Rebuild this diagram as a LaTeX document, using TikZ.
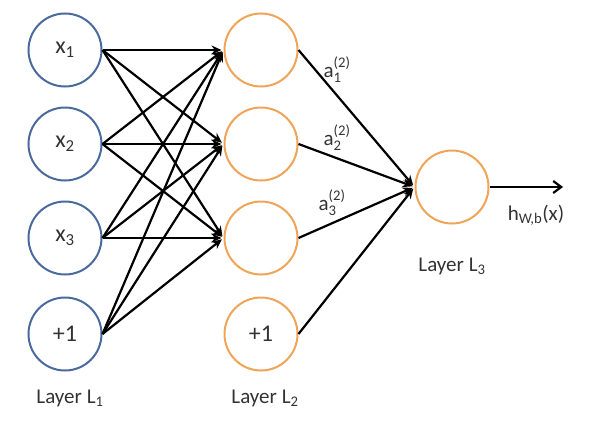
\documentclass[tikz,border=0pt]{standalone}
\usepackage{amsmath}
\usepackage{fontspec}
\setmainfont{Carlito}
\usetikzlibrary{arrows.meta}
\definecolor{inblue}{HTML}{4A6A9C}
\definecolor{hidorange}{HTML}{F0A458}
\definecolor{txt}{HTML}{333333}
\newcommand{\actlbl}[1]{$\text{a}^{\text{(2)}}_{\text{#1}}$}
\begin{document}
\begin{tikzpicture}[x=1pt,y=-1pt,
  neuron/.style={circle,draw,line width=2pt,minimum size=73pt,inner sep=0pt,font=\fontsize{24}{28}\selectfont,text=txt},
  inneuron/.style={neuron,draw=inblue},
  hidneuron/.style={neuron,draw=hidorange},
  conn/.style={line width=2.2pt,shorten >=2pt,-{Stealth[length=10pt,width=9pt]}},
  lbl/.style={font=\fontsize{21}{24}\selectfont,text=txt,inner sep=0pt}
]
\useasboundingbox (0,0) rectangle (592,434);
\node[inneuron] (x1) at (65,50) {x\textsubscript{1}};
\node[inneuron] (x2) at (65,144) {x\textsubscript{2}};
\node[inneuron] (x3) at (65,238) {x\textsubscript{3}};
\node[inneuron] (x4) at (65,334) {+1};
\node[hidneuron] (h1) at (261,50) {};
\node[hidneuron] (h2) at (261,144) {};
\node[hidneuron] (h3) at (261,238) {};
\node[hidneuron] (h4) at (261,334) {+1};
\node[hidneuron] (o) at (452,187) {};
\coordinate (out) at (563,187);
\foreach \i in {1,2,3,4}{
  \foreach \j in {1,2,3}{
    \draw[conn] (x\i.east) -- (h\j.west);
  }
  \draw[conn] (h\i.east) -- (o.west);
}
\draw[line width=2.2pt,-{Straight Barb[length=8pt,width=12pt]}] (o.east) -- (out);
\node[lbl] (a1) at (337,70) {\actlbl{1}};
\node[lbl] (a2) at (337,138) {\actlbl{2}};
\node[lbl] (a3) at (332,203) {\actlbl{3}};
\node[lbl] (hout) at (536,215) {h\textsubscript{W,b}(x)};
\node[lbl] (L1) at (70,398) {Layer L\textsubscript{1}};
\node[lbl] (L2) at (265,398) {Layer L\textsubscript{2}};
\node[lbl] (L3) at (452,266) {Layer L\textsubscript{3}};
\end{tikzpicture}
\end{document}
